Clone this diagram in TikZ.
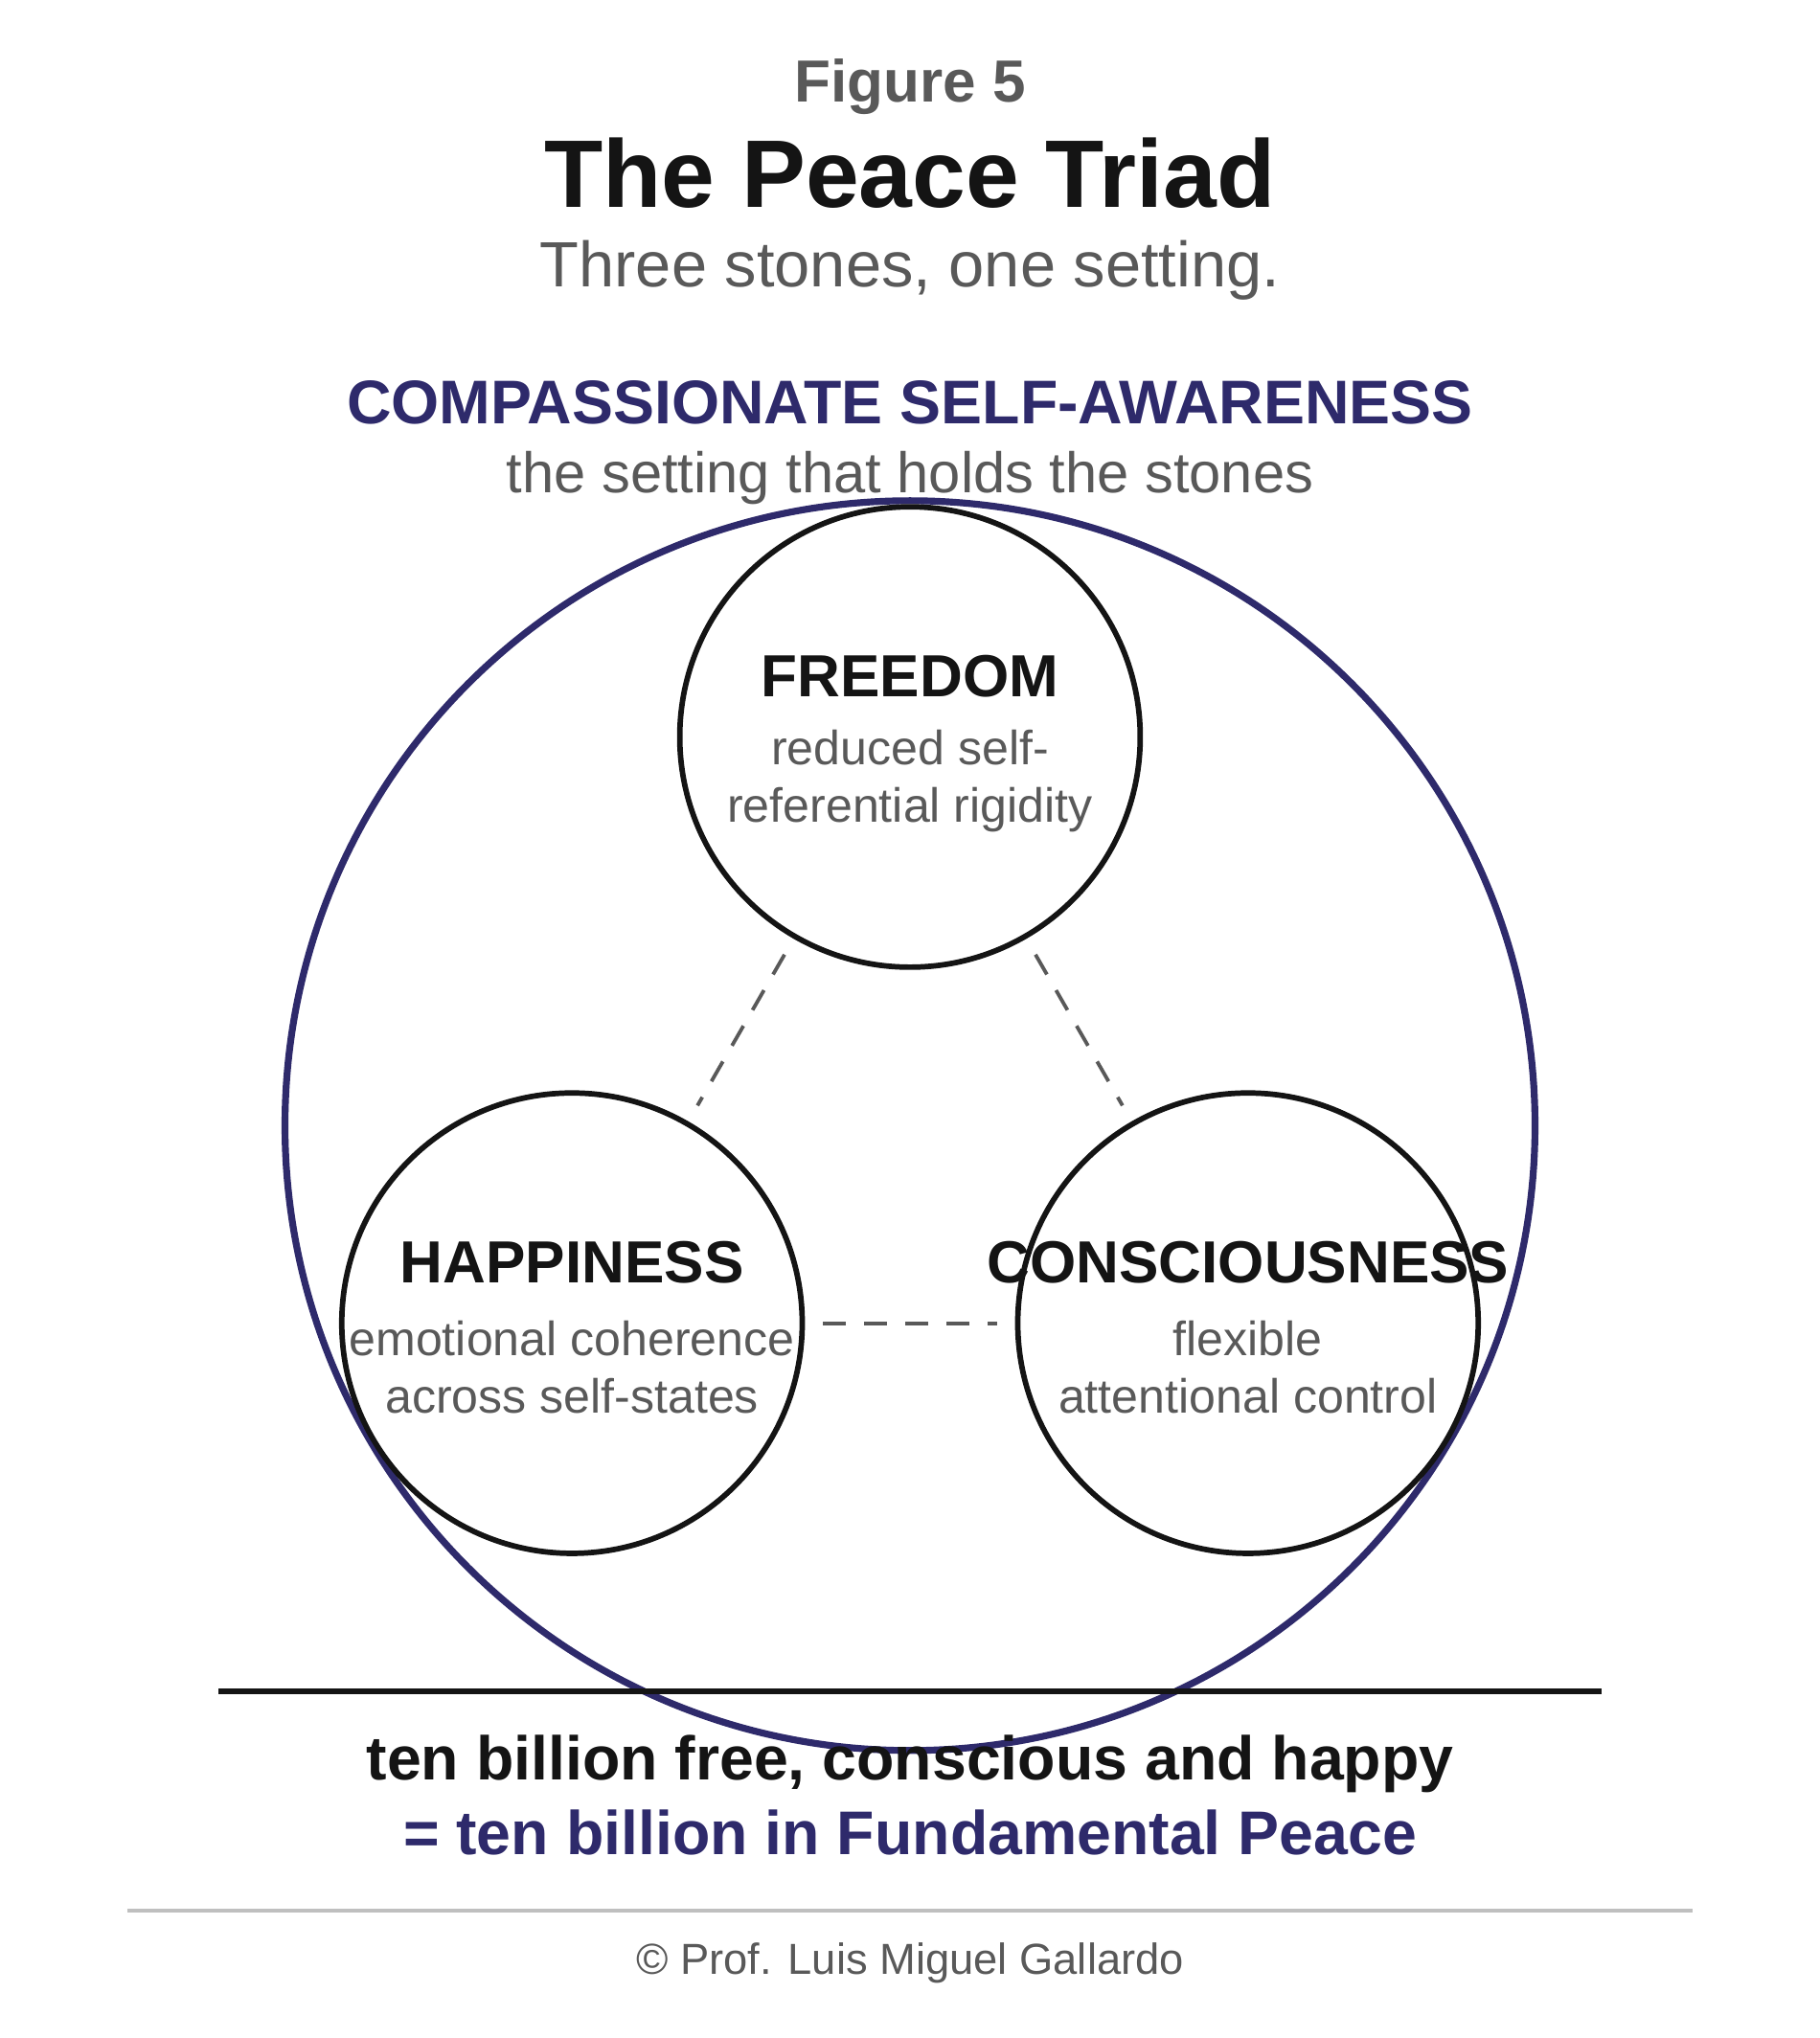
\documentclass[tikz,border=0pt]{standalone}
\usepackage{fontspec}
\setmainfont{Liberation Sans}
\usetikzlibrary{positioning}
\definecolor{navy}{HTML}{2E2A6B}
\definecolor{ink}{HTML}{141414}
\definecolor{mute}{HTML}{595959}
\begin{document}
\begin{tikzpicture}[x=0.01cm, y=-0.01cm, node distance = 0.3em]
    \tikzstyle{stone} = [circle, draw=ink, line width=1.2pt, minimum size=3.54cm, inner sep=0pt];
    \tikzstyle{stonetitle} = [font=\bfseries\fontsize{13}{15}\selectfont, text=ink];
    \tikzstyle{gloss} = [font=\fontsize{10.5}{12.5}\selectfont, text=mute, align=center];
    \tikzstyle{link} = [draw=mute, line width=0.8pt, dash pattern=on 5pt off 4pt, shorten <=4pt, shorten >=4pt];
    \useasboundingbox (0,0) rectangle (1400,1568);

    \node [font=\bfseries\fontsize{13}{15}\selectfont, text=mute] (fig) at (700,67) {Figure 5};
    \node [font=\bfseries\fontsize{21}{24}\selectfont, text=ink] (title) at (700,133) {The Peace Triad};
    \node [font=\fontsize{14}{16}\selectfont, text=mute] (sub) at (700,208) {Three stones, one setting.};
    \node [font=\bfseries\fontsize{13.5}{16}\selectfont, text=navy] (csa) at (700,310) {COMPASSIONATE SELF-AWARENESS};
    \node [font=\fontsize{12.5}{15}\selectfont, text=mute] (csasub) at (700,368) {the setting that holds the stones};

    \node [circle, draw=navy, line width=1.5pt, minimum size=9.61cm] (setting) at (700,866) {};

    \node [stone] (F) at (700,567) {};
    \node [stone] (H) at (440,1018) {};
    \node [stone] (C) at (960,1018) {};

    \node [stonetitle] (Fn) at (700,520) {FREEDOM};
    \node [gloss] (Fg) at (700,601) {reduced self-\\referential rigidity};
    \node [stonetitle] (Hn) at (440,971) {HAPPINESS};
    \node [gloss] (Hg) at (440,1052) {emotional coherence\\across self-states};
    \node [stonetitle] (Cn) at (960,971) {CONSCIOUSNESS};
    \node [gloss] (Cg) at (960,1052) {flexible\\attentional control};

    \draw [link] (F) to (H);
    \draw [link] (F) to (C);
    \draw [link] (H) to (C);

    \coordinate (b1) at (168,1301);
    \coordinate (b2) at (1232,1301);
    \draw [ink, line width=1.3pt] (b1) -- (b2);

    \node [font=\bfseries\fontsize{13.5}{16}\selectfont, text=ink] (ten) at (700,1357) {ten billion free, conscious and happy};
    \node [font=\bfseries\fontsize{13.5}{16}\selectfont, text=navy] (peace) at (700,1410) {= ten billion in Fundamental Peace};

    \coordinate (g1) at (98,1470);
    \coordinate (g2) at (1302,1470);
    \draw [black!25, line width=0.8pt] (g1) -- (g2);
    \node [font=\fontsize{9.5}{11}\selectfont, text=mute] (copy) at (700,1510) {© Prof. Luis Miguel Gallardo};
\end{tikzpicture}
\end{document}
